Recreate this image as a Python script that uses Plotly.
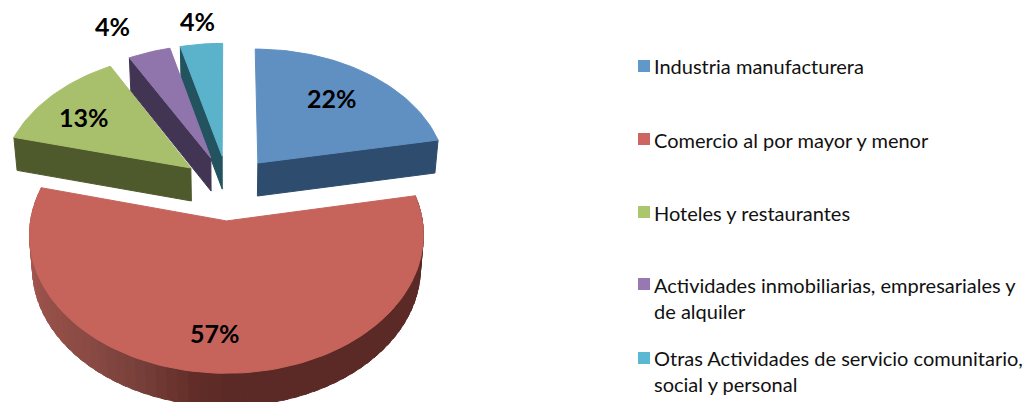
import math
import plotly.graph_objects as go

categories = ["Industria manufacturera", "Comercio al por mayor y menor", "Hoteles y restaurantes",
              "Actividades inmobiliarias, empresariales y<br>de alquiler",
              "Otras Actividades de servicio comunitario,<br>social y personal"]
values = [22, 57, 13, 4, 4]
labels = ["22%", "57%", "13%", "4%", "4%"]

top_colors = ["#6090c2", "#c6645c", "#a8c06c", "#8f75ab", "#5bb2cb"]
wall_colors = ["#2e4c6d", "#5c2a26", "#4f5a2c", "#423453", "#23535f"]
key_colors = ["#6197c9", "#cd6660", "#abc66b", "#9878b3", "#5bb8d3"]

# layout geometry (projection of the exploded pie, label and key placement)
X0, Y0, F, G, K, DEPTH, SHRINK, EXPLODE = 228, 187.6, 191, 130, 0.1, 33, 0.985, 0.25
label_xy = [(332, 98), (215, 333), (84, 117), (112, 26), (197, 21)]
key_y = [66, 139, 212, 284, 358]
text_y = [66, 140, 213, 298, 371]
wall_stops = [(180, (92, 42, 38)), (188, (98, 45, 40)), (204, (120, 64, 58)),
              (220, (138, 74, 68)), (270, (168, 90, 82)), (285, (168, 90, 82))]


def project(u, v):
    s = 1 / (1 - K * v)
    return X0 + F * u * s, Y0 + G * v * s


def drop(p):
    return X0 + (p[0] - X0) * SHRINK, p[1] + DEPTH


def wall_color(deg):
    if deg <= wall_stops[0][0]:
        c = wall_stops[0][1]
        return f"rgb{c}"
    for (a0, c0), (a1, c1) in zip(wall_stops, wall_stops[1:]):
        if a0 <= deg <= a1:
            t = (deg - a0) / (a1 - a0)
            return "rgb(%d,%d,%d)" % tuple(c0[i] + (c1[i] - c0[i]) * t for i in range(3))
    return f"rgb{wall_stops[-1][1]}"


fig = go.Figure()


def poly(pts, color):
    xs = [p[0] for p in pts] + [pts[0][0]]
    ys = [p[1] for p in pts] + [pts[0][1]]
    fig.add_trace(go.Scatter(x=xs, y=ys, mode="lines", fill="toself", fillcolor=color,
                             line=dict(color=color, width=1), hoverinfo="skip", showlegend=False))


total = sum(values)
spans = []
acc = 0
for val in values:
    spans.append((acc, acc + val / total * 360))
    acc += val / total * 360


def slice_points(i, a0, a1):
    s0, s1 = spans[i]
    mid = math.radians((s0 + s1) / 2)
    cu, cv = EXPLODE * math.sin(mid), -EXPLODE * math.cos(mid)
    n = max(2, int((a1 - a0) / 1.5))
    pts = []
    for j in range(n + 1):
        t = math.radians(a0 + (a1 - a0) * j / n)
        pts.append(project(cu + math.sin(t), cv - math.cos(t)))
    return (project(cu, cv), pts)


def draw_slice(i):
    s0, s1 = spans[i]
    apex, arc = slice_points(i, s0, s1)
    if i == 1:
        step = 3.0
        a = s0
        while a < s1:
            b = min(a + step, s1)
            _, seg = slice_points(i, a, min(b + 1.5, s1))
            quad = seg + [drop(p) for p in reversed(seg)]
            poly(quad, wall_color((a + b) / 2))
            a = b
    elif i == 0:
        poly([apex, arc[-1], drop(arc[-1]), drop(apex)], wall_colors[i])
    else:
        poly([apex, arc[0], drop(arc[0]), drop(apex)], wall_colors[i])
    poly([apex] + arc, top_colors[i])


for i in [0, 2, 4, 3, 1]:
    draw_slice(i)

fig.add_trace(go.Scatter(x=[644] * len(categories), y=key_y, mode="markers",
                         marker=dict(symbol="square", size=12, color=key_colors, line=dict(width=0)),
                         text=categories, hoverinfo="text", showlegend=False))

annotations = []
for (x, y), t in zip(label_xy, labels):
    annotations.append(dict(x=x, y=y, text=f"<b>{t}</b>", showarrow=False, xanchor="center", yanchor="middle",
                            font=dict(family="Lato", size=25, color="#000000")))
for y, t in zip(text_y, categories):
    annotations.append(dict(x=652, y=y, text=t, showarrow=False, xanchor="left", yanchor="middle", align="left",
                            font=dict(family="Lato", size=20, color="#111111")))

fig.update_layout(width=1025, height=402, margin=dict(l=0, r=0, t=0, b=0), autosize=False,
                  paper_bgcolor="white", plot_bgcolor="white", showlegend=False, annotations=annotations,
                  xaxis=dict(range=[0, 1025], visible=False, fixedrange=True),
                  yaxis=dict(range=[402, 0], visible=False, fixedrange=True))
fig.write_html("out.html", config={"displayModeBar": False},
               post_script="document.body.style.margin='0';document.body.style.overflow='hidden';")
